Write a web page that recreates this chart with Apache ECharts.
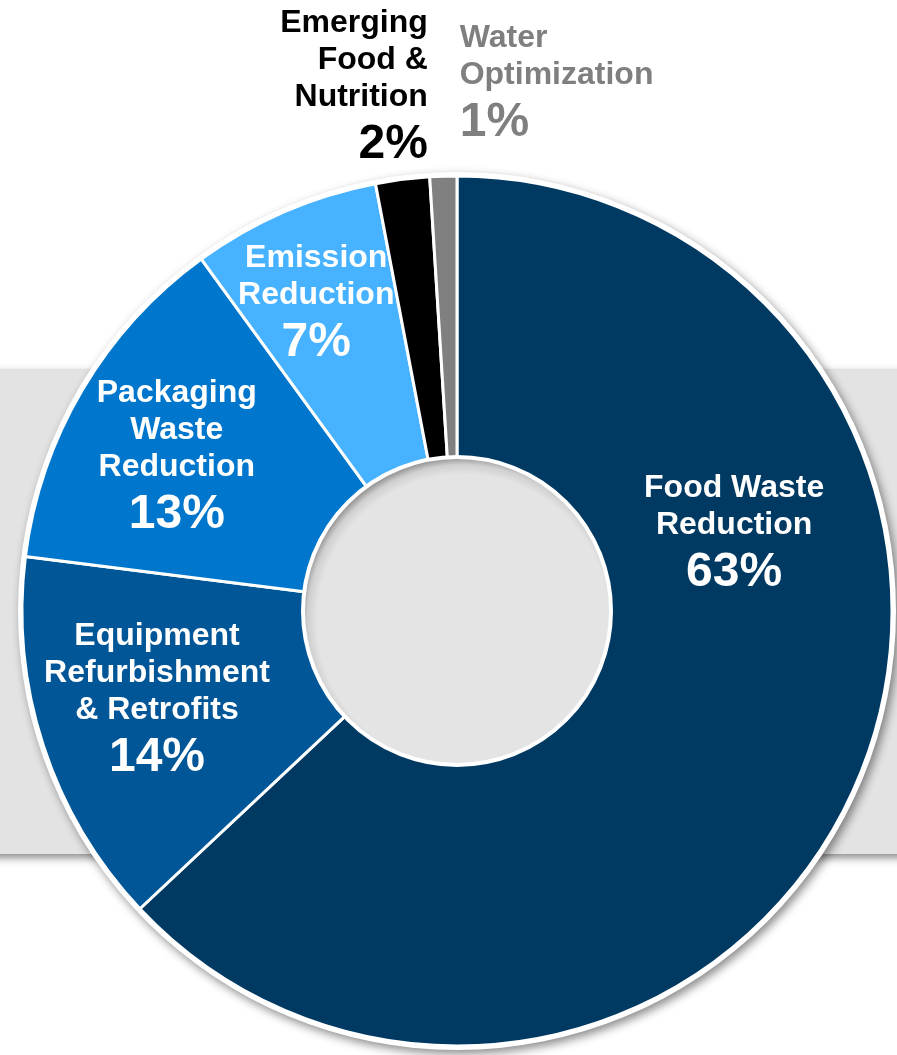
<!DOCTYPE html>
<html>
<head>
<meta charset="utf-8">
<title>Investment by Category</title>
<script src="https://cdn.jsdelivr.net/npm/echarts@6/dist/echarts.min.js"></script>
<style>
  html, body { margin: 0; padding: 0; background: #ffffff; }
  #chart { width: 897px; height: 1055px; }
</style>
</head>
<body>
<div id="chart"></div>
<script>
// Category shares, clockwise from 12 o'clock
const categories = [
  'Food Waste Reduction',
  'Equipment Refurbishment & Retrofits',
  'Packaging Waste Reduction',
  'Emission Reduction',
  'Emerging Food & Nutrition',
  'Water Optimization'
];
const shares = [63, 14, 13, 7, 2, 1];
// How each category name wraps in its label
const labelLines = [
  ['Food Waste', 'Reduction'],
  ['Equipment', 'Refurbishment', '& Retrofits'],
  ['Packaging', 'Waste', 'Reduction'],
  ['Emission', 'Reduction'],
  ['Emerging', 'Food &', 'Nutrition'],
  ['Water', 'Optimization']
];

// Styling
const sliceColors = ['#003a63', '#005696', '#0077cc', '#47b2ff', '#000000', '#808080'];
const labelColors = ['#ffffff', '#ffffff', '#ffffff', '#ffffff', '#000000', '#7f7f7f'];
// Label nudges from the library's inside position: [dx, dy, align]
const labelShift = [
  [5, -193, 'center'],
  [-18, 0, 'center'],
  [-25, -1, 'center'],
  [-23, -33, 'center'],
  [8, -228, 'right'],
  [12, -229, 'left']
];
const CENTER = [457, 611];
const R_IN = 152, R_OUT = 435;
const FONT = "'Liberation Sans', Arial, Helvetica, sans-serif";

function richFor(align) {
  return {
    n: { fontFamily: FONT, fontWeight: 'bold', fontSize: 32, lineHeight: 37, align: align },
    p: { fontFamily: FONT, fontWeight: 'bold', fontSize: 48, lineHeight: 58, align: align }
  };
}

const pieData = categories.map(function (name, i) {
  return {
    name: name,
    value: shares[i],
    itemStyle: { color: sliceColors[i] },
    label: { color: labelColors[i], rich: richFor(labelShift[i][2]) }
  };
});

const chart = echarts.init(document.getElementById('chart'), null, { renderer: 'canvas' });

chart.setOption({
  animation: false,
  backgroundColor: '#ffffff',
  graphic: [{
    type: 'rect',
    z: 0,
    silent: true,
    shape: { x: -20, y: 369, width: 940, height: 485 },
    style: {
      fill: '#e3e3e3',
      shadowBlur: 8,
      shadowOffsetY: 4,
      shadowColor: 'rgba(0,0,0,0.45)'
    }
  }],
  series: [
    {
      // white rim and drop shadow behind the ring
      type: 'pie',
      z: 1,
      silent: true,
      center: CENTER,
      radius: [0, R_OUT + 4],
      startAngle: 90,
      label: { show: false },
      labelLine: { show: false },
      emphasis: { disabled: true },
      itemStyle: {
        color: '#ffffff',
        shadowBlur: 10,
        shadowOffsetX: 3,
        shadowOffsetY: 4,
        shadowColor: 'rgba(0,0,0,0.45)'
      },
      data: [{ value: 1, name: '' }]
    },
    {
      type: 'pie',
      z: 2,
      silent: true,
      center: CENTER,
      radius: [R_IN, R_OUT],
      startAngle: 90,
      clockwise: true,
      avoidLabelOverlap: false,
      emphasis: { disabled: true },
      itemStyle: { borderColor: '#ffffff', borderWidth: 3 },
      label: {
        show: true,
        position: 'inside',
        fontFamily: FONT,
        fontWeight: 'bold',
        formatter: function (p) {
          const lines = labelLines[p.dataIndex].map(function (t) { return '{n|' + t + '}'; });
          lines.push('{p|' + p.value + '%}');
          return lines.join('\n');
        }
      },
      labelLine: { show: false },
      labelLayout: function (params) {
        const s = labelShift[params.dataIndex];
        return { dx: s[0], dy: s[1], align: s[2], verticalAlign: 'middle' };
      },
      data: pieData
    },
    {
      // hub of the ring
      type: 'pie',
      z: 3,
      silent: true,
      center: CENTER,
      radius: [0, R_IN + 2],
      label: { show: false },
      labelLine: { show: false },
      emphasis: { disabled: true },
      itemStyle: {
        borderColor: '#ffffff',
        borderWidth: 4,
        color: {
          type: 'radial', x: 0.52, y: 0.53, r: 0.52,
          colorStops: [
            { offset: 0, color: '#e4e4e4' },
            { offset: 0.9, color: '#e4e4e4' },
            { offset: 0.96, color: '#cfcfcf' },
            { offset: 1, color: '#9a9a9a' }
          ]
        }
      },
      data: [{ value: 1, name: '' }]
    }
  ]
});
</script>
</body>
</html>
